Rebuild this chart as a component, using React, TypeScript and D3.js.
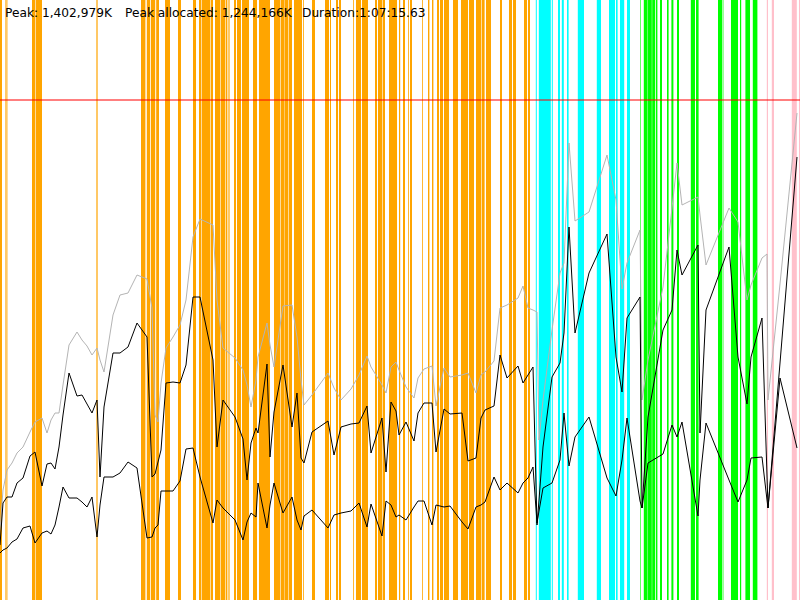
import { useMemo } from 'react'
import * as d3 from 'd3'

// elapsed seconds of each sample
const times = [
  0, 15, 35, 60, 85, 115, 150, 175, 210, 235, 255, 275, 295, 315, 345, 385, 410, 435, 460, 485,
  500, 520, 565, 600, 640, 685, 735, 760, 775, 790, 805, 830, 865, 900, 930, 965, 1000, 1065, 1085, 1115,
  1175, 1215, 1235, 1255, 1280, 1290, 1335, 1350, 1370, 1415, 1460, 1485, 1505, 1520, 1560, 1640, 1670, 1705, 1755, 1795,
  1835, 1855, 1910, 1930, 1955, 1980, 1995, 2030, 2070, 2090, 2120, 2160, 2180, 2220, 2250, 2310, 2340, 2380, 2405, 2425,
  2470, 2500, 2535, 2590, 2615, 2640, 2665, 2685, 2695, 2715, 2760, 2800, 2820, 2845, 2875, 2945, 3035, 3080, 3110, 3135,
  3200, 3210, 3240, 3315, 3360, 3385, 3410, 3490, 3500, 3530, 3645, 3690, 3735, 3755, 3810, 3835, 3840, 3900, 3985,
]

// heap size (MB)
const heapSize = [
  210, 330, 390, 411, 441, 459, 504, 534, 546, 501, 540, 561, 561, 645, 765, 804, 780, 762, 735, 756,
  720, 684, 855, 915, 921, 975, 963, 876, 555, 534, 651, 756, 789, 825, 900, 1089, 1143, 1125, 900, 756,
  726, 690, 645, 579, 660, 729, 831, 765, 699, 882, 885, 789, 660, 585, 615, 681, 636, 600, 633, 675,
  732, 699, 645, 621, 699, 714, 690, 639, 606, 666, 693, 702, 582, 696, 669, 675, 681, 621, 675, 684,
  717, 876, 885, 906, 942, 876, 870, 864, 480, 600, 810, 981, 1011, 1371, 1137, 1164, 1335, 1200, 933, 1011,
  1110, 600, 720, 939, 1176, 1311, 1185, 1209, 1155, 1005, 1176, 1134, 900, 945, 1026, 1038, 600, 948, 1461,
]

// used before collection (MB)
const usedBefore = [
  165, 291, 309, 309, 351, 366, 432, 444, 342, 408, 411, 393, 459, 555, 681, 612, 615, 588, 561, 600,
  369, 579, 741, 741, 759, 831, 789, 369, 378, 414, 450, 651, 654, 651, 705, 909, 909, 720, 459, 600,
  549, 483, 360, 471, 516, 501, 708, 429, 564, 705, 519, 621, 426, 411, 504, 537, 435, 519, 528, 531,
  582, 441, 546, 384, 594, 567, 495, 534, 477, 561, 591, 591, 444, 573, 558, 561, 417, 426, 546, 570,
  582, 735, 666, 702, 651, 675, 699, 225, 300, 459, 669, 711, 801, 1119, 801, 981, 1098, 729, 624, 846,
  909, 276, 549, 810, 870, 1050, 975, 1065, 501, 870, 1059, 729, 588, 729, 846, 372, 276, 711, 1329,
]

// used after collection (MB)
const usedAfter = [
  141, 150, 156, 174, 183, 216, 222, 171, 201, 207, 198, 225, 279, 339, 306, 306, 294, 279, 309, 189,
  285, 369, 369, 381, 414, 396, 186, 189, 216, 225, 327, 327, 327, 357, 453, 456, 369, 231, 300, 276,
  240, 180, 234, 261, 249, 351, 216, 285, 351, 261, 309, 240, 210, 252, 270, 216, 255, 261, 267, 291,
  219, 288, 192, 297, 285, 249, 255, 240, 279, 297, 297, 225, 285, 279, 282, 234, 213, 279, 285, 294,
  369, 330, 351, 321, 351, 366, 399, 231, 267, 336, 351, 420, 561, 402, 489, 549, 366, 312, 420, 546,
  297, 276, 411, 438, 525, 489, 534, 252, 360, 531, 360, 294, 360, 426, 429, 300, 276, 666, 456,
]

// pause events: [start s, duration s]
const youngPauses: [number, number][] = [
  [0, 10], [27, 3], [32, 5], [160, 17], [180, 30], [482, 6], [705, 20], [728, 3], [735, 15], [754, 21],
  [779, 5], [785, 10], [825, 25], [890, 15], [965, 15], [995, 12], [1010, 40], [1053, 12], [1075, 25], [1103, 24],
  [1130, 6], [1139, 4], [1145, 3], [1170, 10], [1185, 20], [1210, 35], [1265, 20], [1295, 55], [1370, 30], [1403, 20],
  [1425, 15], [1443, 17], [1470, 40], [1515, 4], [1560, 15], [1625, 20], [1650, 5], [1680, 10], [1695, 10], [1765, 4],
  [1780, 25], [1810, 30], [1875, 10], [1890, 20], [1913, 12], [1945, 40], [1995, 6], [2015, 10], [2040, 4], [2050, 10],
  [2110, 4], [2140, 7], [2160, 7], [2185, 10], [2200, 15], [2220, 25], [2265, 25], [2305, 35], [2345, 25], [2380, 25],
  [2408, 15], [2430, 25], [2500, 10], [2545, 15], [2565, 15], [2620, 15], [2640, 10],
]
const remarkPauses: [number, number][] = [
  [2679, 5], [2694, 60], [2759, 5], [2790, 10], [2809, 10], [2835, 8], [2889, 31], [2984, 21], [3045, 30], [3080, 8],
  [3100, 21], [3135, 15],
]
const mixedPauses: [number, number][] = [
  [3200, 3], [3219, 16], [3237, 22], [3261, 15], [3280, 7], [3300, 10], [3335, 8], [3357, 10], [3385, 10], [3454, 21],
  [3480, 13], [3590, 21], [3614, 3], [3655, 35], [3700, 6], [3727, 23], [3764, 23],
]
const fullPauses: [number, number][] = [
  [3834, 6], [3859, 11], [3959, 25], [3995, 5],
]

const maxHeap = 1500
const labels = ['Peak: 1,402,979K', 'Peak allocated: 1,244,166K', 'Duration:1:07:15.63']
const labelX = [5, 125, 302]

export default function App() {
  const width = 800
  const height = 600

  const x = useMemo(() => d3.scaleLinear().domain([0, 4000]).range([0, width]), [])
  const y = useMemo(() => d3.scaleLinear().domain([0, 1800]).range([height, 0]), [])

  const line = (vals: number[]) =>
    d3.line<number>()
      .x((_, i) => x(times[i]))
      .y(d => y(d))(vals) || ''

  const pauseGroups: [string, [number, number][]][] = [
    ['#ffa500', youngPauses],
    ['#00ffff', remarkPauses],
    ['#00ff00', mixedPauses],
    ['#ffc0cb', fullPauses],
  ]

  return (
    <svg width={width} height={height} style={{ position: 'fixed', left: 0, top: 0, background: '#fff' }}>
      {pauseGroups.map(([color, list]) =>
        list.map(([s, d], i) => (
          <rect key={color + i} x={x(s)} y={0} width={x(s + d) - x(s)} height={height} fill={color} />
        ))
      )}
      <line x1={0} x2={width} y1={y(maxHeap)} y2={y(maxHeap)} stroke="#ff0000" strokeOpacity={0.5} strokeWidth={2} />
      <path d={line(heapSize)} fill="none" stroke="#b4b4b4" strokeWidth={1} />
      <path d={line(usedBefore)} fill="none" stroke="#000" strokeWidth={1} />
      <path d={line(usedAfter)} fill="none" stroke="#000" strokeWidth={1} />
      {labels.map((t, i) => (
        <text key={t} x={labelX[i]} y={17} fontFamily="DejaVu Sans, sans-serif" fontSize={12.2} fill="#000">{t}</text>
      ))}
    </svg>
  )
}
